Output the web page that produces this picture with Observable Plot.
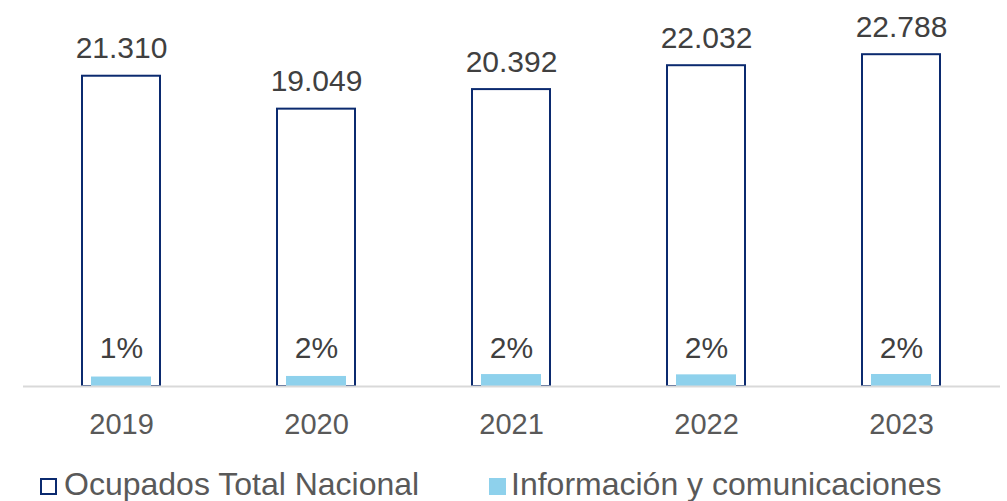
<!DOCTYPE html>
<html>
<head>
<meta charset="utf-8">
<script src="https://cdn.jsdelivr.net/npm/d3@7"></script>
<script src="https://cdn.jsdelivr.net/npm/@observablehq/plot@0.6"></script>
<style>
  html, body { margin: 0; padding: 0; background: #fff; }
  body { width: 1007px; height: 501px; position: relative; overflow: hidden; font-family: "Liberation Sans", Arial, sans-serif; }
  #chart { position: absolute; left: 0; top: 0; }
  .leg { position: absolute; top: 466px; font-size: 32px; color: #595959; white-space: nowrap; line-height: normal; }
  .sw { position: absolute; top: 478px; width: 17px; height: 17px; box-sizing: border-box; }
</style>
</head>
<body>
<div id="chart"></div>
<div class="sw" style="left:40px; border:2px solid #0b2a6f; background:#fff;"></div>
<div class="leg" style="left:64px;">Ocupados Total Nacional</div>
<div class="sw" style="left:489px; background:#8ed1ec;"></div>
<div class="leg" style="left:511px;">Información y comunicaciones</div>
<script>
const years = ["2019", "2020", "2021", "2022", "2023"];
const ocupadosTotal = [21310, 19049, 20392, 22032, 22788];
const ictValues = [650, 690, 820, 800, 825];
const ictPctLabels = ["1%", "2%", "2%", "2%", "2%"];

const data = years.map((y, i) => ({
  year: y,
  total: ocupadosTotal[i],
  ict: ictValues[i],
  pct: ictPctLabels[i]
}));

const fmt = d3.formatLocale({decimal: ",", thousands: ".", grouping: [3], currency: ["", ""]}).format(",d");

const navy = "#0b2a6f";
const light = "#8ed1ec";

const chart = Plot.plot({
  width: 1007,
  height: 445,
  marginLeft: 23,
  marginRight: 7,
  marginTop: 22,
  marginBottom: 59,
  style: {fontFamily: "'Liberation Sans', Arial, sans-serif", background: "#fff"},
  x: {domain: years, paddingInner: 0.6, paddingOuter: 0.3, label: null},
  y: {domain: [0, 25000], axis: null},
  marks: [
    Plot.barY(data, {x: "year", y: "total", fill: "#fff", stroke: navy, strokeWidth: 2}),
    Plot.barY(data, {x: "year", y: "ict", fill: light, insetLeft: 9, insetRight: 9}),
    Plot.ruleY([0], {stroke: "#d9d9d9", strokeWidth: 2}),
    Plot.text(data, {x: "year", y: "total", text: d => fmt(d.total), dy: -18, lineAnchor: "bottom", fontSize: 30, fill: "#404040"}),
    Plot.text(data, {x: "year", text: "pct", frameAnchor: "bottom", dy: -29, lineAnchor: "bottom", fontSize: 30, fill: "#404040"}),
    Plot.axisX({tickSize: 0, tickPadding: 27, fontSize: 29, fill: "#595959", label: null})
  ]
});
document.getElementById("chart").appendChild(chart);
</script>
</body>
</html>
